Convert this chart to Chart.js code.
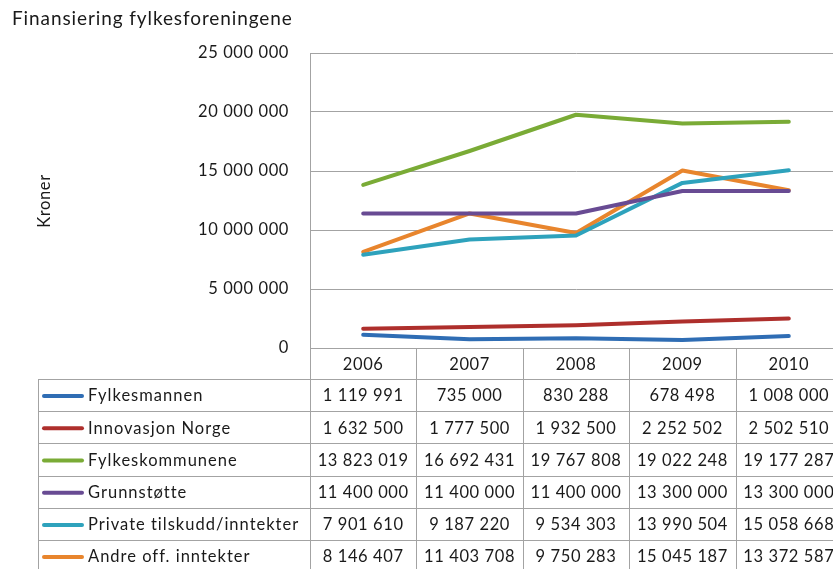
<!DOCTYPE html>
<html>
<head>
<meta charset="utf-8">
<script src="https://cdn.jsdelivr.net/npm/chart.js@4.4.1/dist/chart.umd.min.js"></script>
<style>
  html, body { margin: 0; padding: 0; background: #fff; overflow: hidden; }
  canvas { display: block; }
</style>
</head>
<body>
<!-- canvas is a little wider than the window: the plot runs off the right edge like the original -->
<canvas id="finChart" width="842" height="569"></canvas>
<script>
const years = ['2006', '2007', '2008', '2009', '2010'];

const fylkesmannen     = [1119991, 735000, 830288, 678498, 1008000];
const innovasjonNorge  = [1632500, 1777500, 1932500, 2252502, 2502510];
const fylkeskommunene  = [13823019, 16692431, 19767808, 19022248, 19177287];
const grunnstotte      = [11400000, 11400000, 11400000, 13300000, 13300000];
const privateTilskudd  = [7901610, 9187220, 9534303, 13990504, 15058668];
const andreOff         = [8146407, 11403708, 9750283, 15045187, 13372587];

const seriesNames = ['Fylkesmannen', 'Innovasjon Norge', 'Fylkeskommunene',
    'Grunnstøtte', 'Private tilskudd/inntekter', 'Andre off. inntekter'];
const seriesData = [fylkesmannen, innovasjonNorge, fylkeskommunene,
    grunnstotte, privateTilskudd, andreOff];
const seriesColors = ['#2f6db4', '#ae2f2c', '#7aab36', '#684b93', '#2ea2bc', '#e8852d'];

const FONT = 'Lato, "Open Sans", sans-serif';
const GRID = '#a3a3a3';
const TEXT = '#1a1a1a';

// 1234567 -> "1 234 567"
const fmt = n => String(n).replace(/\B(?=(\d{3})+(?!\d))/g, ' ');

// Excel text is a bit wider than Lato, so space the letters out a little
const spacingPlugin = {
    id: 'spacing',
    beforeDraw(chart) { chart.ctx.letterSpacing = '0.6px'; }
};

// Title, axis title and the Excel-style data table under the plot
const tablePlugin = {
    id: 'dataTable',
    afterDraw(chart) {
        const { ctx, chartArea, scales: { x } } = chart;
        const step = x.getPixelForValue(1) - x.getPixelForValue(0);
        const left = chartArea.left;
        const right = chartArea.right;
        const headTop = chartArea.bottom;
        const headBottom = 379;
        const rowH = 32.2;
        const legendLeft = 38;
        const tableBottom = headBottom + rowH * seriesNames.length;

        ctx.save();
        ctx.strokeStyle = GRID;
        ctx.lineWidth = 1;
        ctx.beginPath();
        ctx.moveTo(left, Math.round(headTop) + 0.5);
        ctx.lineTo(right, Math.round(headTop) + 0.5);
        for (let r = 0; r <= seriesNames.length; r++) {
            const y = Math.round(headBottom + r * rowH) + 0.5;
            ctx.moveTo(legendLeft, y);
            ctx.lineTo(right, y);
        }
        for (let c = 0; c <= years.length; c++) {
            const xx = Math.round(left + c * step) + 0.5;
            ctx.moveTo(xx, headTop);
            ctx.lineTo(xx, tableBottom);
        }
        ctx.moveTo(legendLeft + 0.5, headBottom);
        ctx.lineTo(legendLeft + 0.5, tableBottom);
        ctx.stroke();

        ctx.fillStyle = TEXT;
        ctx.font = '16.5px ' + FONT;
        ctx.letterSpacing = '0.6px';
        ctx.textAlign = 'center';
        ctx.textBaseline = 'middle';
        years.forEach((yr, i) => {
            ctx.fillText(yr, x.getPixelForValue(i), (headTop + headBottom) / 2 + 1);
        });

        seriesNames.forEach((name, r) => {
            const cy = headBottom + r * rowH + rowH / 2 + 1;
            ctx.strokeStyle = seriesColors[r];
            ctx.lineWidth = 4;
            ctx.lineCap = 'round';
            ctx.beginPath();
            ctx.moveTo(44, cy);
            ctx.lineTo(82, cy);
            ctx.stroke();
            ctx.textAlign = 'left';
            ctx.letterSpacing = '1px';
            ctx.fillText(name, 88, cy);
            ctx.textAlign = 'center';
            ctx.letterSpacing = '0.6px';
            seriesData[r].forEach((v, i) => {
                ctx.fillText(fmt(v), x.getPixelForValue(i), cy);
            });
        });

        // chart title
        ctx.textAlign = 'left';
        ctx.textBaseline = 'alphabetic';
        ctx.font = '19px ' + FONT;
        ctx.letterSpacing = '0.9px';
        ctx.fillText('Finansiering fylkesforeningene', 12, 25);

        // y axis title
        ctx.font = '16.5px ' + FONT;
        ctx.letterSpacing = '0.6px';
        ctx.translate(45, 201);
        ctx.rotate(-Math.PI / 2);
        ctx.textAlign = 'center';
        ctx.textBaseline = 'middle';
        ctx.fillText('Kroner', 0, 0);
        ctx.restore();
    }
};

new Chart(document.getElementById('finChart'), {
    type: 'line',
    data: {
        labels: years,
        datasets: seriesNames.map((name, i) => ({
            label: name,
            data: seriesData[i],
            borderColor: seriesColors[i],
            backgroundColor: seriesColors[i],
            borderWidth: 4,
            borderJoinStyle: 'round',
            borderCapStyle: 'round',
            pointRadius: 0,
            tension: 0
        }))
    },
    options: {
        responsive: false,
        animation: false,
        layout: { padding: { left: 0, top: 53, right: 0, bottom: 221 } },
        scales: {
            x: {
                display: false,
                offset: true
            },
            y: {
                min: 0,
                max: 25000000,
                afterFit: scale => { scale.width = 310; },
                ticks: {
                    stepSize: 5000000,
                    padding: 21,
                    color: TEXT,
                    font: { family: FONT, size: 16.5 },
                    callback: v => fmt(v)
                },
                grid: { color: GRID, drawTicks: false },
                border: { color: GRID }
            }
        },
        plugins: {
            legend: { display: false },
            tooltip: { enabled: false }
        }
    },
    plugins: [spacingPlugin, tablePlugin]
});
</script>
</body>
</html>
